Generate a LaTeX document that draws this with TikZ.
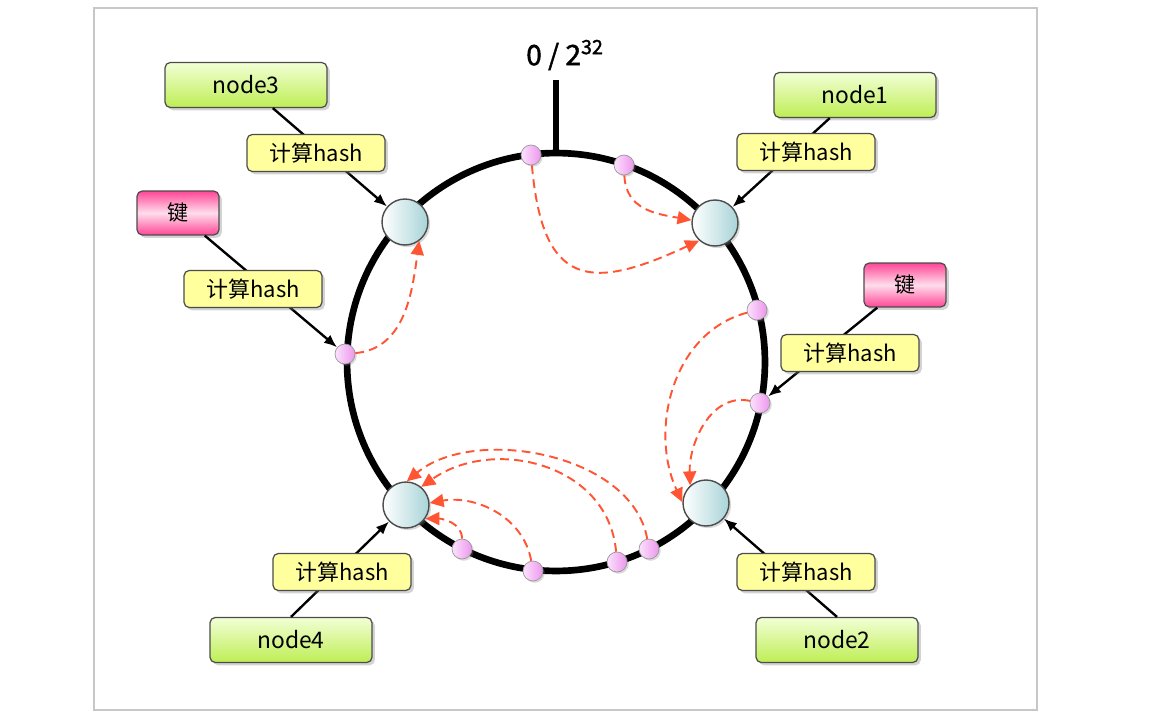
\documentclass[tikz,border=0pt]{standalone}
\usepackage{fontspec}
\newfontfamily\cjk{Noto Sans CJK SC}
\newfontfamily\cjkbold{Noto Sans CJK SC}[FakeBold=1.6]
\usepackage{xcolor}
\usepackage{tikz}
\usetikzlibrary{arrows.meta, shadows}
\definecolor{limetop}{RGB}{242,255,214}
\definecolor{limebot}{RGB}{190,238,84}
\definecolor{keypink}{RGB}{255,70,150}
\definecolor{keylight}{RGB}{255,222,236}
\definecolor{hashyellow}{RGB}{255,255,158}
\definecolor{servercyan}{RGB}{168,212,216}
\definecolor{pointlight}{RGB}{252,226,252}
\definecolor{pointdark}{RGB}{236,150,236}
\definecolor{hopred}{RGB}{255,85,51}
\tikzset{
    box/.style={rectangle, rounded corners=3pt, draw=black!70, line width=0.7pt, align=center,
        font=\cjk\fontsize{13}{15}\selectfont,
        drop shadow={shadow xshift=1.6pt, shadow yshift=-1.6pt, opacity=0.35}},
    nodebox/.style={box, minimum width=3.24cm, minimum height=0.9cm,
        top color=limetop, bottom color=limebot},
    keybox/.style={box, minimum width=1.64cm, minimum height=0.88cm,
        font=\cjk\fontsize{12}{14}\selectfont,
        top color=keypink, bottom color=keypink, middle color=keylight},
    hashbox/.style={box, minimum width=2.76cm, minimum height=0.74cm, fill=hashyellow,
        font=\cjk\fontsize{12.5}{14}\selectfont},
    server/.style={circle, draw=black!70, line width=0.8pt, minimum size=0.92cm, inner sep=0pt,
        left color=white, right color=servercyan,
        drop shadow={shadow xshift=1.2pt, shadow yshift=-1.2pt, opacity=0.3}},
    point/.style={circle, draw=black!40, minimum size=0.4cm, inner sep=0pt,
        left color=pointlight, right color=pointdark,
        drop shadow={shadow xshift=1pt, shadow yshift=-1pt, opacity=0.3}},
    ring/.style={line width=3.8pt},
    frame/.style={draw=black!22, line width=0.8pt},
    arrow/.style={-{Latex[length=2.6mm, width=2.1mm]}, line width=1.35pt},
    hop/.style={-{Triangle[length=2.8mm, width=2.6mm]}, draw=hopred,
        dash pattern=on 5pt off 3pt, line width=1.1pt},
}

\begin{document}
\begin{tikzpicture}[x=0.02cm, y=0.02cm]
    \useasboundingbox (0,0) rectangle (1149,718);
    \draw[frame] (94,8) rectangle (1037,710);

    \coordinate (c) at (556,356);
    \draw[ring] (c) circle[radius=4.18cm];
    \coordinate (top) at (556,565);
    \coordinate (tick) at (556,638);
    \draw[line width=3pt] (top) -- (tick);
    \node[font=\cjkbold\fontsize{16}{18}\selectfont] (zero) at (565,663) {0 / 2\textsuperscript{32}};

    \node[server] (s1) at (715,495) {};
    \node[server] (s2) at (706,215) {};
    \node[server] (s3) at (405,496) {};
    \node[server] (s4) at (406,213) {};

    \node[point] (p1) at (531,563) {};
    \node[point] (p2) at (624,553) {};
    \node[point] (p3) at (757,408) {};
    \node[point] (p4) at (760,315) {};
    \node[point] (p5) at (345,364) {};
    \node[point] (p6) at (462,169) {};
    \node[point] (p7) at (533,147) {};
    \node[point] (p8) at (617,156) {};
    \node[point] (p9) at (649,169) {};

    \node[nodebox] (n3) at (246,633) {node3};
    \node[nodebox] (n1) at (855,623) {node1};
    \node[nodebox] (n2) at (837,78) {node2};
    \node[nodebox] (n4) at (291,78) {node4};
    \node[keybox] (k1) at (178,505) {键};
    \node[keybox] (k2) at (905,433) {键};

    \draw[arrow] (n3) -- (s3);
    \draw[arrow] (n1) -- (s1);
    \draw[arrow] (n2.north) -- (s2);
    \draw[arrow] (n4.north) -- (s4);
    \draw[arrow] (k1) -- (p5);
    \draw[arrow] (k2) -- (p4);

    \draw[hop] (p1) to[out=-85, in=205, looseness=1.7] (s1.228);
    \draw[hop] (p2) to[out=-88, in=170, looseness=1.1] (s1.173);
    \draw[hop] (p5) to[out=5, in=262] (s3.307);
    \draw[hop] (p3) to[out=195, in=115] (s2.178);
    \draw[hop] (p4) to[out=168, in=92] (s2.132);
    \draw[hop] (p9) to[out=100, in=40, looseness=0.9] (s4.88);
    \draw[hop] (p8) to[out=95, in=35, looseness=1.1] (s4.50);
    \draw[hop] (p7) to[out=100, in=10] (s4.5);
    \draw[hop] (p6) to[out=90, in=0] (s4.-35);

    \node[hashbox] (h3) at (316,565) {计算hash};
    \node[hashbox] (h1) at (806,566) {计算hash};
    \node[hashbox] (hk1) at (253,429) {计算hash};
    \node[hashbox] (hk2) at (850,365) {计算hash};
    \node[hashbox] (h2) at (806,146) {计算hash};
    \node[hashbox] (h4) at (342,146) {计算hash};
\end{tikzpicture}
\end{document}
